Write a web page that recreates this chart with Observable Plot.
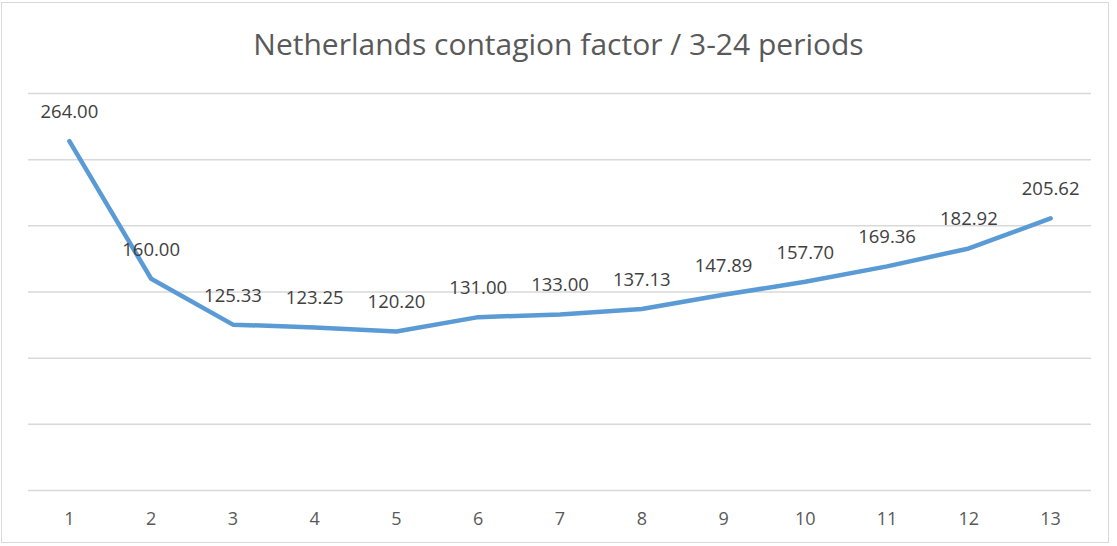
<!DOCTYPE html>
<html>
<head>
<meta charset="utf-8">
<script src="https://cdn.jsdelivr.net/npm/d3@7"></script>
<script src="https://cdn.jsdelivr.net/npm/@observablehq/plot@0.6"></script>
<style>
  body { margin: 0; background: #fff; }
  #wrap { position: relative; width: 1117px; height: 546px; overflow: hidden; font-family: "Open Sans", "Liberation Sans", sans-serif; }
  #frame { position: absolute; left: 1px; top: 2px; width: 1108px; height: 541px; border: 1.5px solid #d9d9d9; box-sizing: border-box; pointer-events: none; }
  #title { height: 75px; line-height: 88px; text-align: center; font-size: 30px; color: #595959; white-space: nowrap; }
  svg { display: block; }
</style>
</head>
<body>
<div id="wrap">
  <div id="frame"></div>
  <div id="title">Netherlands contagion factor / 3-24 periods</div>
  <div id="chart"></div>
</div>
<script>
const periods = [1, 2, 3, 4, 5, 6, 7, 8, 9, 10, 11, 12, 13];
const values = [264.00, 160.00, 125.33, 123.25, 120.20, 131.00, 133.00, 137.13, 147.89, 157.70, 169.36, 182.92, 205.62];
const labels = ["264.00", "160.00", "125.33", "123.25", "120.20", "131.00", "133.00", "137.13", "147.89", "157.70", "169.36", "182.92", "205.62"];
const gridValues = [0, 50, 100, 150, 200, 250, 300];

const data = periods.map((p, i) => ({p, v: values[i], label: labels[i]}));

const chart = Plot.plot({
  width: 1117,
  height: 471,
  marginTop: 18,
  marginBottom: 56,
  marginLeft: 28,
  marginRight: 26,
  style: {fontFamily: "'Open Sans', 'Liberation Sans', sans-serif", background: "transparent"},
  x: {type: "point", domain: periods, padding: 0.5, round: false, label: null},
  y: {domain: [0, 300], axis: null},
  marks: [
    Plot.ruleY(gridValues, {stroke: "#d9d9d9", strokeWidth: 1.5}),
    Plot.axisX({tickSize: 0, tickPadding: 22, fontSize: 18, fill: "#595959", label: null}),
    Plot.line(data, {x: "p", y: "v", stroke: "#5b9bd5", strokeWidth: 4.5, strokeLinejoin: "round", strokeLinecap: "round"}),
    Plot.text(data, {x: "p", y: "v", text: "label", dy: -29, fontSize: 18.5, fill: "#404040"})
  ]
});
document.getElementById("chart").appendChild(chart);
</script>
</body>
</html>
